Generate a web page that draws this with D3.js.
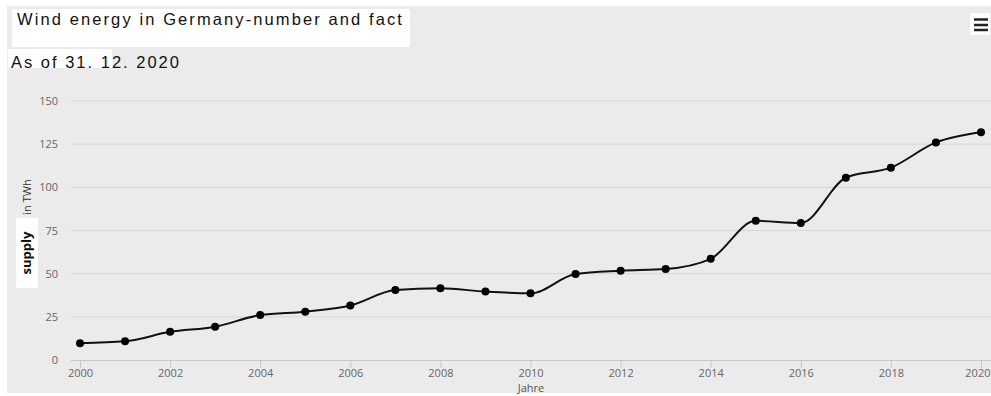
<!DOCTYPE html>
<html><head><meta charset="utf-8">
<script src="https://cdn.jsdelivr.net/npm/d3@7"></script>
<style>html,body{margin:0;padding:0;background:#fff;}svg{display:block;}</style>
</head><body>
<svg id="c" width="991" height="396"></svg>
<script>
const years = [2000,2001,2002,2003,2004,2005,2006,2007,2008,2009,2010,2011,2012,2013,2014,2015,2016,2017,2018,2019,2020];
const supply = [9.7,10.8,16.3,19.3,26,28,31.6,40.5,41.5,39.6,38.6,49.8,51.7,52.7,58.6,80.6,79.3,105.6,111.4,126,131.9];
const yTicks = [0,25,50,75,100,125,150];
const xTicks = [2000,2002,2004,2006,2008,2010,2012,2014,2016,2018,2020];
const titleText = "Wind energy in Germany-number and fact";
const subtitleText = "As of 31. 12. 2020";

const svg = d3.select("#c");
svg.append("rect").attr("x",7).attr("y",6).attr("width",984).attr("height",387).attr("fill","#ebebeb");

const x = d3.scaleLinear().domain([2000,2020]).range([80,981]);
const y = d3.scaleLinear().domain([0,150]).range([360,101]);

// gridlines
svg.append("g").selectAll("line").data(yTicks.filter(d=>d>0)).join("line")
  .attr("x1",71).attr("x2",991).attr("y1",d=>y(d)).attr("y2",d=>y(d))
  .attr("stroke","#d6d6d6").attr("stroke-width",1);

// y labels
svg.append("g").selectAll("text").data(yTicks).join("text")
  .attr("x",58).attr("y",d=>y(d)+4).attr("text-anchor","end")
  .attr("font-family","'Open Sans', sans-serif").attr("font-size",11).attr("fill","#666")
  .text(d=>d);

// x axis
const xa = svg.append("g").attr("transform","translate(0,360)")
  .call(d3.axisBottom(x).tickValues(xTicks).tickFormat(d3.format("d")).tickSize(8).tickPadding(1));
xa.select(".domain").attr("stroke","#c8c8c8").attr("d","M71,0.5H991");
xa.selectAll(".tick line").attr("stroke","#c8c8c8");
xa.selectAll("text").attr("font-family","'Open Sans', sans-serif").attr("font-size",11).attr("fill","#666");
xa.selectAll(".tick").filter(d=>d===2020).select("text").attr("text-anchor","end").attr("x",9);

svg.append("text").attr("x",531).attr("y",392).attr("text-anchor","middle")
  .attr("font-family","'Open Sans', sans-serif").attr("font-size",11).attr("fill","#555").text("Jahre");

// y axis title
svg.append("rect").attr("x",16).attr("y",218).attr("width",22).attr("height",70).attr("fill","#fff");
svg.append("text").attr("transform","translate(31,253) rotate(-90)").attr("text-anchor","middle")
  .attr("font-family","'Open Sans', sans-serif").attr("font-size",13).attr("font-weight","bold").attr("fill","#111")
  .text("supply");
svg.append("text").attr("transform","translate(31,197) rotate(-90)").attr("text-anchor","middle")
  .attr("font-family","'Open Sans', sans-serif").attr("font-size",11).attr("fill","#333")
  .text("in TWh");

// line
const data = years.map((yr,i)=>({yr, v:supply[i]}));
svg.append("path").datum(data)
  .attr("d", d3.line().x(d=>x(d.yr)).y(d=>y(d.v)).curve(d3.curveMonotoneX))
  .attr("fill","none").attr("stroke","#111").attr("stroke-width",2);
svg.append("g").selectAll("circle").data(data).join("circle")
  .attr("cx",d=>x(d.yr)).attr("cy",d=>y(d.v)).attr("r",4).attr("fill","#000");

// title
svg.append("rect").attr("x",12).attr("y",9).attr("width",398).attr("height",38).attr("fill","#fff");
svg.append("text").attr("x",17).attr("y",25).attr("font-family","'Liberation Sans', Arial, sans-serif")
  .attr("font-size",16.5).attr("letter-spacing","2.1px").attr("fill","#111").text(titleText);
svg.append("rect").attr("x",8).attr("y",49).attr("width",104).attr("height",19).attr("fill","#fff");
svg.append("text").attr("x",11).attr("y",68).attr("font-family","'Liberation Sans', Arial, sans-serif")
  .attr("font-size",16.5).attr("letter-spacing","2px").attr("fill","#111").text(subtitleText);

// menu icon
svg.append("rect").attr("x",970).attr("y",13).attr("width",20).attr("height",22).attr("fill","#fff");
svg.append("g").selectAll("line").data([19.5,25,30]).join("line")
  .attr("x1",974).attr("x2",988).attr("y1",d=>d).attr("y2",d=>d)
  .attr("stroke","#222").attr("stroke-width",2.5);
</script>
</body></html>
